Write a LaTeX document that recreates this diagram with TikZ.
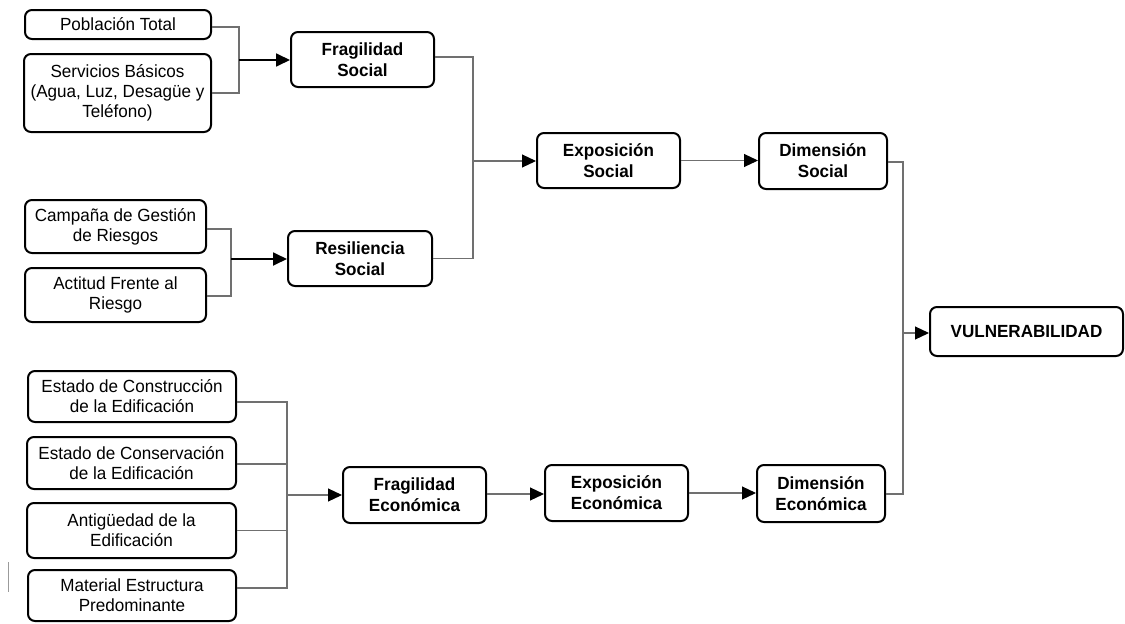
\documentclass[tikz,border=0pt]{standalone}
\usepackage{fontspec}
\setmainfont{Liberation Sans}[FakeStretch=0.97]
\usetikzlibrary{arrows.meta}
\definecolor{linkgray}{RGB}{112,112,112}
\tikzset{
  box/.style={draw=black, line width=2pt, rounded corners=7pt, fill=white,
    align=center, inner sep=1pt, font=\fontsize{17.6}{20.2}\selectfont},
  boldbox/.style={box, font=\fontsize{17.6}{21}\selectfont\bfseries},
  link/.style={draw=linkgray, line width=1.1pt},
  tip/.style={-{Triangle[length=14pt,width=13pt,color=black]}},
  arrowgray/.style={link, tip},
  arrowdark/.style={draw=black, line width=1.8pt, tip}
}
\begin{document}
\begin{tikzpicture}[x=1pt,y=-1pt]
\useasboundingbox (0,0) rectangle (1125,624);

% social inputs
\node[box, minimum width=186, minimum height=29] (pob) at (118,24.5) {Población Total};
\node[box, minimum width=187, minimum height=78] (serv) at (117.5,93) {Servicios Básicos\\(Agua, Luz, Desagüe y\\Teléfono)};
\node[box, minimum width=181, minimum height=53] (camp) at (115.5,226.5) {Campaña de Gestión\\de Riesgos};
\node[box, minimum width=181, minimum height=54] (acti) at (115.5,295) {Actitud Frente al\\Riesgo};

% economic inputs
\node[box, minimum width=208, minimum height=51] (estC) at (132,396.5) {Estado de Construcción\\de la Edificación};
\node[box, minimum width=209, minimum height=52] (estV) at (131.5,463) {Estado de Conservación\\de la Edificación};
\node[box, minimum width=209, minimum height=55] (anti) at (131.5,530.5) {Antigüedad de la\\Edificación};
\node[box, minimum width=208, minimum height=51] (mat) at (132,595.5) {Material Estructura\\Predominante};

% intermediate and final nodes
\node[boldbox, minimum width=143, minimum height=55] (fragS) at (362.5,59.5) {Fragilidad\\Social};
\node[boldbox, minimum width=144, minimum height=55] (resS) at (360,258.5) {Resiliencia\\Social};
\node[boldbox, minimum width=143, minimum height=55] (expS) at (608.5,160.5) {Exposición\\Social};
\node[boldbox, minimum width=128, minimum height=56] (dimS) at (823,161) {Dimensión\\Social};
\node[boldbox, minimum width=143, minimum height=56] (fragE) at (414.5,495) {Fragilidad\\Económica};
\node[boldbox, minimum width=143, minimum height=56] (expE) at (616.5,493) {Exposición\\Económica};
\node[boldbox, minimum width=128, minimum height=57] (dimE) at (821,493.5) {Dimensión\\Económica};
\node[boldbox, minimum width=193, minimum height=49] (vuln) at (1026.5,331.5) {VULNERABILIDAD};

% junction points
\coordinate (jA) at (239,60);
\coordinate (jB) at (231,259);
\coordinate (jC) at (473,161);
\coordinate (jD) at (287,495);
\coordinate (jE) at (903,333);
\coordinate (jF) at ([yshift=1]fragE.east);

% brackets
\draw[link] ([yshift=-2.5]pob.east) -| (jA) |- (serv.east);
\draw[link] ([yshift=-2.5]camp.east) -| (jB) |- ([yshift=-1]acti.east);
\draw[link] ([yshift=2.5]fragS.east) -| (jC) |- (resS.east);
\draw[link] ([yshift=-1]dimS.east) -| (jE) |- ([yshift=-0.5]dimE.east);
\draw[link] ([yshift=-5.5]estC.east) -| (jD);
\draw[link] ([yshift=-1]estV.east) -| (jD);
\draw[link] (anti.east) -| (jD);
\draw[link] ([yshift=7.5]mat.east) -| (jD);

% arrows
\draw[arrowdark] (jA) -- (fragS.west |- jA);
\draw[arrowdark] (jB) -- (resS.west |- jB);
\draw[arrowgray] (jC) -- (expS.west |- jC);
\draw[arrowgray] (expS.east) -- (dimS.west |- expS.east);
\draw[arrowgray] (jE) -- (vuln.west |- jE);
\draw[arrowgray] (jD) -- (fragE.west |- jD);
\draw[arrowgray] (jF) -- (expE.west |- jF);
\draw[arrowgray] (expE.east) -- (dimE.west |- expE.east);

% short stray rule at the left margin
\draw[draw=linkgray!70, line width=1pt] (8,562) -- (8,592);
\end{tikzpicture}
\end{document}
